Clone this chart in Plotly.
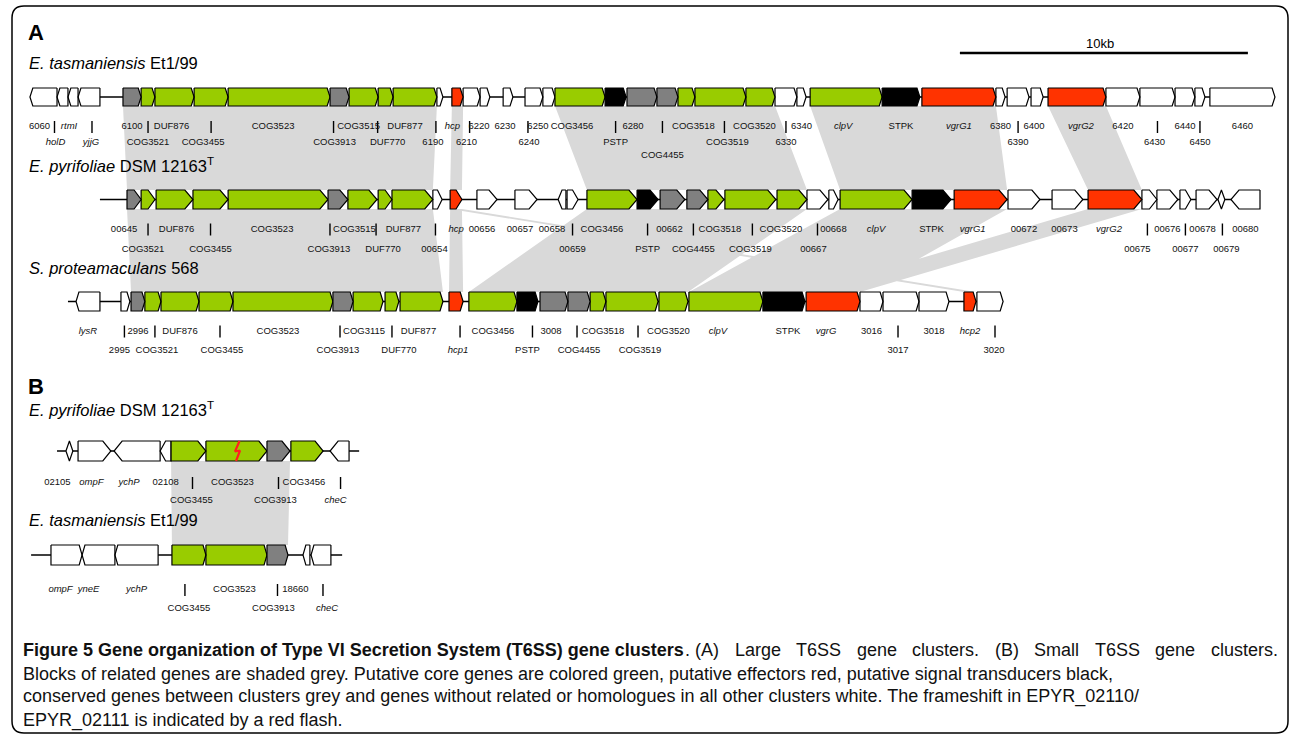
import plotly.graph_objects as go

PX_PER_KB = 28.8          # 10 kb scale bar = 288 px
W, H = 1290, 735
XMAX = W / PX_PER_KB

# ---------------- data (positions along the map in kb) ----------------
# E. tasmaniensis Et1/99 (large cluster)
et_names = ["6060", "holD", "rtmI", "yjjG", "6100", "COG3521", "DUF876", "COG3455", "COG3523", "COG3913",
            "COG3515", "DUF770", "DUF877", "6190", "hcp", "6210", "6220", "6230", "6240", "6250",
            "COG3456", "PSTP", "6280", "COG4455", "COG3518", "COG3519", "COG3520", "6330", "6340", "clpV",
            "STPK", "vgrG1", "6380", "6390", "6400", "vgrG2", "6420", "6430", "6440", "6450", "6460"]
et_start = [1.04, 1.98, 2.36, 2.71, 4.27, 4.90, 5.38, 6.74, 7.92, 11.46,
            12.12, 13.13, 13.65, 15.17, 15.69, 16.08, 16.67, 17.47, 18.23, 18.85,
            19.27, 21.01, 21.77, 22.81, 23.54, 24.13, 25.90, 26.91, 27.67, 28.13,
            30.63, 32.01, 34.58, 34.97, 35.80, 36.39, 38.40, 39.58, 40.80, 41.49, 42.01]
et_end = [1.98, 2.36, 2.71, 3.47, 4.90, 5.38, 6.74, 7.92, 11.46, 12.12,
          13.13, 13.65, 15.17, 15.38, 16.08, 16.67, 17.01, 17.81, 18.85, 19.27,
          21.01, 21.74, 22.81, 23.54, 24.13, 25.90, 26.91, 27.67, 27.99, 30.63,
          31.94, 34.58, 34.90, 35.73, 36.22, 38.40, 39.58, 40.80, 41.49, 41.84, 44.27]
et_kind = "w w w w s g g g g s g g g w r w w w w w g k s s g g g w w g k r w w w r w w w w w".split()
et_level = [1, 2, 1, 2, 1, 2, 1, 2, 1, 2, 1, 2, 1, 2, 1, 2, 1, 1, 2, 1,
            1, 2, 1, 3, 1, 2, 1, 2, 1, 1, 1, 1, 1, 2, 1, 1, 1, 2, 1, 2, 1]
et_dir = "L L L L R R R R R R R R R R R R R R R R R R R R R R R R R R R R R R R R R R R R R".split()

# E. pyrifoliae DSM 12163T (large cluster)
ep_names = ["00645", "COG3521", "DUF876", "COG3455", "COG3523", "COG3913", "COG3515", "DUF770", "DUF877", "00654",
            "hcp", "00656", "00657", "00658", "00659", "COG3456", "PSTP", "00662", "COG4455", "COG3518",
            "COG3519", "COG3520", "00667", "00668", "clpV", "STPK", "vgrG1", "00672", "00673", "vgrG2",
            "00675", "00676", "00677", "00678", "00679", "00680"]
ep_start = [4.41, 4.90, 5.42, 6.70, 7.92, 11.39, 12.08, 13.13, 13.61, 15.03,
            15.63, 16.56, 17.88, 19.38, 19.69, 20.38, 22.12, 22.92, 23.85, 24.58,
            25.17, 26.98, 28.02, 28.78, 29.17, 31.67, 33.13, 35.00, 36.53, 37.78,
            39.65, 40.17, 40.97, 41.53, 42.29, 42.74]
ep_end = [4.90, 5.38, 6.70, 7.92, 11.39, 12.08, 13.09, 13.61, 15.03, 15.35,
          16.04, 17.26, 18.65, 19.65, 20.07, 22.12, 22.85, 23.78, 24.58, 25.14,
          26.94, 28.02, 28.75, 29.10, 31.67, 33.02, 34.97, 36.11, 37.60, 39.65,
          40.17, 40.90, 41.35, 42.26, 42.53, 43.75]
ep_kind = "s g g g g s g g g w r w w w w g k s s g g g w w g k r w w r w w w w w w".split()
ep_level = [1, 2, 1, 2, 1, 2, 1, 2, 1, 2, 1, 1, 1, 1, 2, 1, 2, 1, 2, 1,
            2, 1, 2, 1, 1, 1, 1, 1, 1, 1, 2, 1, 2, 1, 2, 1]
ep_dir = "R R R R R R R R R R R R R L R R R R R R R R R R R R R R R R R R R R B L".split()

# S. proteamaculans 568 (large cluster)
sp_names = ["lysR", "2995", "2996", "COG3521", "DUF876", "COG3455", "COG3523", "COG3913", "COG3115", "DUF770",
            "DUF877", "hcp1", "COG3456", "PSTP", "3008", "COG4455", "COG3518", "COG3519", "COG3520", "clpV",
            "STPK", "vgrG", "3016", "3017", "3018", "hcp2", "3020"]
sp_start = [2.64, 4.20, 4.55, 5.03, 5.59, 6.91, 8.09, 11.56, 12.26, 13.37,
            13.89, 15.59, 16.28, 17.95, 18.75, 19.72, 20.49, 21.04, 22.88, 23.92,
            26.49, 27.99, 29.86, 30.66, 31.91, 33.47, 33.92]
sp_end = [3.47, 4.51, 5.03, 5.59, 6.91, 8.09, 11.56, 12.26, 13.30, 13.85,
          15.38, 16.08, 17.95, 18.68, 19.72, 20.49, 21.04, 22.85, 23.89, 26.49,
          27.95, 29.86, 30.66, 31.91, 32.95, 33.89, 34.83]
sp_kind = "w w s g g g g s g g g r g k s s g g g g k r w w w r w".split()
sp_level = [1, 2, 1, 2, 1, 2, 1, 2, 1, 2, 1, 2, 1, 2, 1, 2, 1, 2, 1, 1,
            1, 1, 1, 2, 1, 1, 2]
sp_dir = "L R R R R R R R R R R R R R R R R R R R R R R R R R R".split()

# (B) small cluster, E. pyrifoliae
b1_names = ["02105", "ompF", "ychP", "02108", "COG3455", "COG3523", "COG3913", "COG3456", "cheC"]
b1_start = [2.29, 2.71, 3.96, 5.56, 5.94, 7.15, 9.27, 10.10, 11.46]
b1_end = [2.53, 3.85, 5.56, 5.94, 7.15, 9.27, 10.07, 11.22, 12.12]
b1_kind = "w w w w g g s g w".split()
b1_level = [1, 1, 1, 1, 2, 1, 2, 1, 2]
b1_dir = "B R L L R R R R L".split()
b1_frameshift_kb = 8.23

# (B) small cluster, E. tasmaniensis
b2_names = ["ompF", "yneE", "ychP", "COG3455", "COG3523", "COG3913", "18660", "cheC"]
b2_start = [1.77, 2.85, 3.99, 5.97, 7.15, 9.27, 10.52, 10.80]
b2_end = [2.85, 3.99, 5.49, 7.15, 9.27, 10.00, 10.76, 11.49]
b2_kind = "w w w g g s w w".split()
b2_level = [1, 1, 1, 2, 1, 2, 1, 2]
b2_dir = "R L L R R R L L".split()

backbone_kb = {"et": (1.04, 44.27), "ep": (3.47, 43.75), "sp": (2.36, 34.83),
               "b1": (1.98, 12.47), "b2": (1.08, 11.88)}

# blocks of related genes (cluster, first gene, last gene) -> (cluster, first gene, last gene)
links = [
    ("et", "6100", "DUF877", "ep", "00645", "DUF877"),
    ("et", "hcp", "hcp", "ep", "hcp", "hcp"),
    ("et", "COG3456", "COG3520", "ep", "COG3456", "COG3520"),
    ("et", "clpV", "vgrG1", "ep", "clpV", "vgrG1"),
    ("et", "vgrG2", "vgrG2", "ep", "vgrG2", "vgrG2"),
    ("ep", "00645", "DUF877", "sp", "2996", "DUF877"),
    ("ep", "hcp", "hcp", "sp", "hcp1", "hcp1"),
    ("ep", "hcp", "hcp", "sp", "hcp2", "hcp2"),
    ("ep", "COG3456", "COG3520", "sp", "COG3456", "COG3520"),
    ("ep", "clpV", "vgrG1", "sp", "clpV", "vgrG"),
    ("ep", "vgrG2", "vgrG2", "sp", "vgrG", "vgrG"),
    ("b1", "COG3455", "COG3913", "b2", "COG3455", "COG3913"),
]

scale_bar_start_kb = 33.33
scale_bar_kb = 10

ITALIC = {"holD", "rtmI", "yjjG", "hcp", "clpV", "vgrG1", "vgrG2", "vgrG", "hcp1", "hcp2",
          "lysR", "ompF", "ychP", "yneE", "cheC"}

caption_bold = "Figure 5 Gene organization of Type VI Secretion System (T6SS) gene clusters"
caption_line1_words = [". (A)", "Large", "T6SS", "gene", "clusters.", "(B)", "Small", "T6SS", "gene", "clusters."]
caption_lines = [
    "Blocks of related genes are shaded grey. Putative core genes are colored green, putative effectors red, putative signal transducers black,",
    "conserved genes between clusters grey and genes without related or homologues in all other clusters white. The frameshift in EPYR_02110/",
    "EPYR_02111 is indicated by a red flash.",
]

# ---------------- layout / style ----------------
COLORS = {"w": "#FFFFFF", "g": "#99CC00", "r": "#FF3300", "k": "#000000", "s": "#808080"}
SHADE = "#D9D9D9"
SANS = "Liberation Sans, Arial, sans-serif"

clusters = {
    "et": dict(names=et_names, start=et_start, end=et_end, kind=et_kind, level=et_level, dir=et_dir,
               y=97, h=9, tip=0.10, lv=(30, 46, 59)),
    "ep": dict(names=ep_names, start=ep_start, end=ep_end, kind=ep_kind, level=ep_level, dir=ep_dir,
               y=199.5, h=9.5, tip=0.28, lv=(30, 50)),
    "sp": dict(names=sp_names, start=sp_start, end=sp_end, kind=sp_kind, level=sp_level, dir=sp_dir,
               y=301.5, h=9.5, tip=0.10, lv=(30, 49)),
    "b1": dict(names=b1_names, start=b1_start, end=b1_end, kind=b1_kind, level=b1_level, dir=b1_dir,
               y=451, h=10, tip=0.28, lv=(32, 50)),
    "b2": dict(names=b2_names, start=b2_start, end=b2_end, kind=b2_kind, level=b2_level, dir=b2_dir,
               y=555, h=10, tip=0.10, lv=(35, 54)),
}

# horizontal label nudges (pixels, relative to gene centre)
label_nudge = {
    "et": {"6060": -4, "holD": -7, "rtmI": -4, "yjjG": 2, "DUF876": -3, "COG3455": -8, "COG3523": -6,
           "COG3913": -5, "COG3515": -5, "DUF770": 2, "DUF877": -10, "6190": -7, "hcp": -5, "6210": -5,
           "6220": -6, "6230": -3, "6240": -5, "6250": -11, "COG3456": -8, "6280": -9, "COG4455": -5,
           "COG3518": 7, "COG3519": 7, "COG3520": -6, "clpV": -3, "6400": -3, "vgrG2": 4, "6430": -3},
    "ep": {"00645": -10, "COG3521": -5, "DUF876": 2, "COG3523": -6, "COG3913": -9, "COG3515": -8,
           "DUF770": -2, "DUF877": -9, "00654": -3, "00656": -5, "00657": -6, "00658": -10, "COG3456": -10,
           "00662": -3, "COG4455": -4, "COG3518": 4, "COG3520": -11, "00667": -4, "vgrG1": -8,
           "00673": -3, "vgrG2": -6, "00675": -12, "00678": -4, "00679": 5},
    "sp": {"2995": -6, "COG3521": 4, "COG3455": 6, "COG3523": -5, "COG3913": -5, "COG3115": -4,
           "DUF770": 7, "DUF877": -3, "hcp1": 2, "3008": -3, "COG3518": 5, "COG3519": 8, "COG3520": -5,
           "clpV": -8, "STPK": 4, "vgrG": -7, "3017": -3, "3020": 4},
    "b1": {"02105": -12, "ompF": -3, "ychP": -8, "COG3455": 3, "COG3523": -4, "COG3913": -3,
           "COG3456": -3, "cheC": -4},
    "b2": {"ompF": -6, "yneE": -10, "COG3523": -2, "COG3913": -4, "18660": -11, "cheC": 6},
}
bar_nudge = {
    "et": {"holD": -8, "yjjG": 3, "COG3455": 0, "COG3913": -6, "DUF770": -8, "6190": -4, "6210": -2,
           "6240": -6, "COG4455": -5, "COG3519": 4, "6430": 0},
    "ep": {"COG3521": 0, "COG3913": -8, "DUF770": -9, "00654": -2, "COG4455": -4, "COG3519": 2,
           "00667": 0, "00675": -2, "00679": 1},
    "sp": {"2995": -1, "COG3521": 2, "COG3455": 4, "COG3913": -3, "DUF770": 0, "hcp1": 4, "PSTP": 5,
           "COG4455": -2, "COG3519": 6, "3017": -3, "3020": 5},
    "b1": {"COG3455": 4, "COG3913": 0, "cheC": 1},
    "b2": {"COG3455": -4, "COG3913": 0, "cheC": 2},
}

# Arial / Liberation Sans advance widths (1/1000 em) used to justify caption line 1
CW = dict(zip("abcdefghijklmnopqrstuvwxyz", [556, 556, 500, 556, 556, 278, 556, 556, 222, 222, 500, 222, 833,
                                             556, 556, 556, 556, 333, 500, 278, 556, 500, 722, 500, 500, 500]))
CW.update({"A": 667, "B": 667, "L": 556, "S": 667, "T": 611, ".": 278, " ": 278, "(": 333, ")": 333})
CW.update({d: 556 for d in "0123456789"})


def px(p):
    return p / PX_PER_KB


def text_width(s, size):
    return sum(CW.get(ch, 556) for ch in s) * size / 1000.0


fig = go.Figure()

# ---- shaded blocks
sx, sy = [], []
for c1, a1, b1n, c2, a2, b2n in links:
    C1, C2 = clusters[c1], clusters[c2]
    ts = C1["start"][C1["names"].index(a1)]
    te = C1["end"][C1["names"].index(b1n)]
    bs = C2["start"][C2["names"].index(a2)]
    be = C2["end"][C2["names"].index(b2n)]
    y1 = C1["y"] + C1["h"]
    y2 = C2["y"] - C2["h"]
    sx += [ts, te, be, bs, ts, None]
    sy += [y1, y1, y2, y2, y1, None]
fig.add_trace(go.Scatter(x=sx, y=sy, mode="lines", fill="toself", fillcolor=SHADE,
                         line=dict(width=0, color=SHADE), hoverinfo="skip"))

# ---- backbones
bx, by = [], []
for key, (s, e) in backbone_kb.items():
    y = clusters[key]["y"]
    bx += [s, e, None]
    by += [y, y, None]
fig.add_trace(go.Scatter(x=bx, y=by, mode="lines", line=dict(color="black", width=1.5), hoverinfo="skip"))

# ---- genes
polys = {k: ([], []) for k in COLORS}
for key, C in clusters.items():
    y, h = C["y"], C["h"]
    for s, e, k, d in zip(C["start"], C["end"], C["kind"], C["dir"]):
        t = min(C["tip"], (e - s) / 2)
        if d == "R":
            xs = [s, e - t, e, e - t, s, s]
            ys = [y - h, y - h, y, y + h, y + h, y - h]
        elif d == "L":
            xs = [e, s + t, s, s + t, e, e]
            ys = [y - h, y - h, y, y + h, y + h, y - h]
        else:
            xs = [s, s + t, e - t, e, e - t, s + t, s]
            ys = [y, y - h, y - h, y, y + h, y + h, y]
        polys[k][0].extend(xs + [None])
        polys[k][1].extend(ys + [None])
for k, (xs, ys) in polys.items():
    fig.add_trace(go.Scatter(x=xs, y=ys, mode="lines", fill="toself", fillcolor=COLORS[k],
                             line=dict(color="black", width=1.2), hoverinfo="skip"))

# ---- frameshift flash
fy = clusters["b1"]["y"]
fig.add_trace(go.Scatter(
    x=[b1_frameshift_kb + px(2.5), b1_frameshift_kb - px(2), b1_frameshift_kb + px(3), b1_frameshift_kb - px(1)],
    y=[fy - 10, fy + 0.5, fy - 0.5, fy + 10], mode="lines", line=dict(color="#FF2020", width=2.2),
    hoverinfo="skip"))

# ---- gene labels and leader bars
lab_x, lab_y, lab_t = [], [], []
bar_x, bar_y = [], []
for key, C in clusters.items():
    y = C["y"]
    for n, s, e, lvl in zip(C["names"], C["start"], C["end"], C["level"]):
        c = (s + e) / 2
        ln = label_nudge[key].get(n, 0)
        lab_x.append(c + px(ln))
        lab_y.append(y + C["lv"][lvl - 1])
        lab_t.append(f"<i>{n}</i>" if n in ITALIC else n)
        if lvl > 1:
            bn = bar_nudge[key].get(n, ln)
            yb = y + C["lv"][0]
            bar_x += [c + px(bn), c + px(bn), None]
            bar_y += [yb - 6, yb + 6, None]
fig.add_trace(go.Scatter(x=bar_x, y=bar_y, mode="lines", line=dict(color="black", width=1.4), hoverinfo="skip"))
fig.add_trace(go.Scatter(x=lab_x, y=lab_y, text=lab_t, mode="text", textposition="middle center",
                         textfont=dict(family=SANS, size=9.5, color="#111111"),
                         hoverinfo="skip"))

# ---- scale bar
fig.add_trace(go.Scatter(x=[scale_bar_start_kb, scale_bar_start_kb + scale_bar_kb], y=[53, 53], mode="lines",
                         line=dict(color="black", width=2.5), hoverinfo="skip"))
fig.add_annotation(x=scale_bar_start_kb + scale_bar_kb / 2 - px(4), y=43, text=f"{scale_bar_kb}kb",
                   showarrow=False, font=dict(family=SANS, size=13, color="black"))

# ---- titles
tfont = dict(family=SANS, size=16.5, color="black")
titles = [
    (63, "<i>E. tasmaniensis</i> Et1/99"),
    (165, "<i>E. pyrifoliae</i> DSM 12163<sup>T</sup>"),
    (268, "<i>S. proteamaculans</i> 568"),
    (409, "<i>E. pyrifoliae</i> DSM 12163<sup>T</sup>"),
    (520, "<i>E. tasmaniensis</i> Et1/99"),
]
for yy, t in titles:
    fig.add_annotation(x=px(27), y=yy, text=t, showarrow=False, xanchor="left", yanchor="middle", font=tfont)
for yy, t in [(32, "A"), (386, "B")]:
    fig.add_annotation(x=px(26), y=yy, text=f"<b>{t}</b>", showarrow=False, xanchor="left", yanchor="middle",
                       font=dict(family=SANS, size=22, color="black"))

# ---- caption (line 1 justified across the frame)
CAP_SIZE = 18
capfont = dict(family=SANS, size=CAP_SIZE, color="#111111")
fig.add_annotation(x=px(21), y=650, text=f"<b>{caption_bold}</b>",
                   showarrow=False, xanchor="left", yanchor="middle", font=capfont)
x_left, x_right = 683, 1276
widths = [text_width(wd, CAP_SIZE) for wd in caption_line1_words]
gap = (x_right - x_left - sum(widths)) / (len(widths) - 1)
xc = x_left
for wd, wdt in zip(caption_line1_words, widths):
    fig.add_annotation(x=px(xc), y=650, text=wd, showarrow=False, xanchor="left", yanchor="middle",
                       font=capfont)
    xc += wdt + gap
for i, t in enumerate(caption_lines):
    fig.add_annotation(x=px(21), y=673.5 + i * 23.3, text=t, showarrow=False, xanchor="left", yanchor="middle",
                       font=capfont)

# ---- border (rounded rectangle)
x0, x1, y0, y1, r = 12, 1288, 6, 733, 12
path = (f"M {px(x0 + r)},{y0} L {px(x1 - r)},{y0} Q {px(x1)},{y0} {px(x1)},{y0 + r} "
        f"L {px(x1)},{y1 - r} Q {px(x1)},{y1} {px(x1 - r)},{y1} L {px(x0 + r)},{y1} "
        f"Q {px(x0)},{y1} {px(x0)},{y1 - r} L {px(x0)},{y0 + r} Q {px(x0)},{y0} {px(x0 + r)},{y0} Z")
fig.add_shape(type="path", path=path, xref="x", yref="y", line=dict(color="black", width=1.5))

fig.update_layout(
    width=W, height=H, margin=dict(l=0, r=0, t=0, b=0),
    paper_bgcolor="white", plot_bgcolor="white", showlegend=False,
    xaxis=dict(range=[0, XMAX], visible=False, fixedrange=True),
    yaxis=dict(range=[H, 0], visible=False, fixedrange=True),
)

fig.write_html("out.html", config={"displayModeBar": False},
               post_script="document.body.style.margin='0';document.body.style.overflow='hidden';")
